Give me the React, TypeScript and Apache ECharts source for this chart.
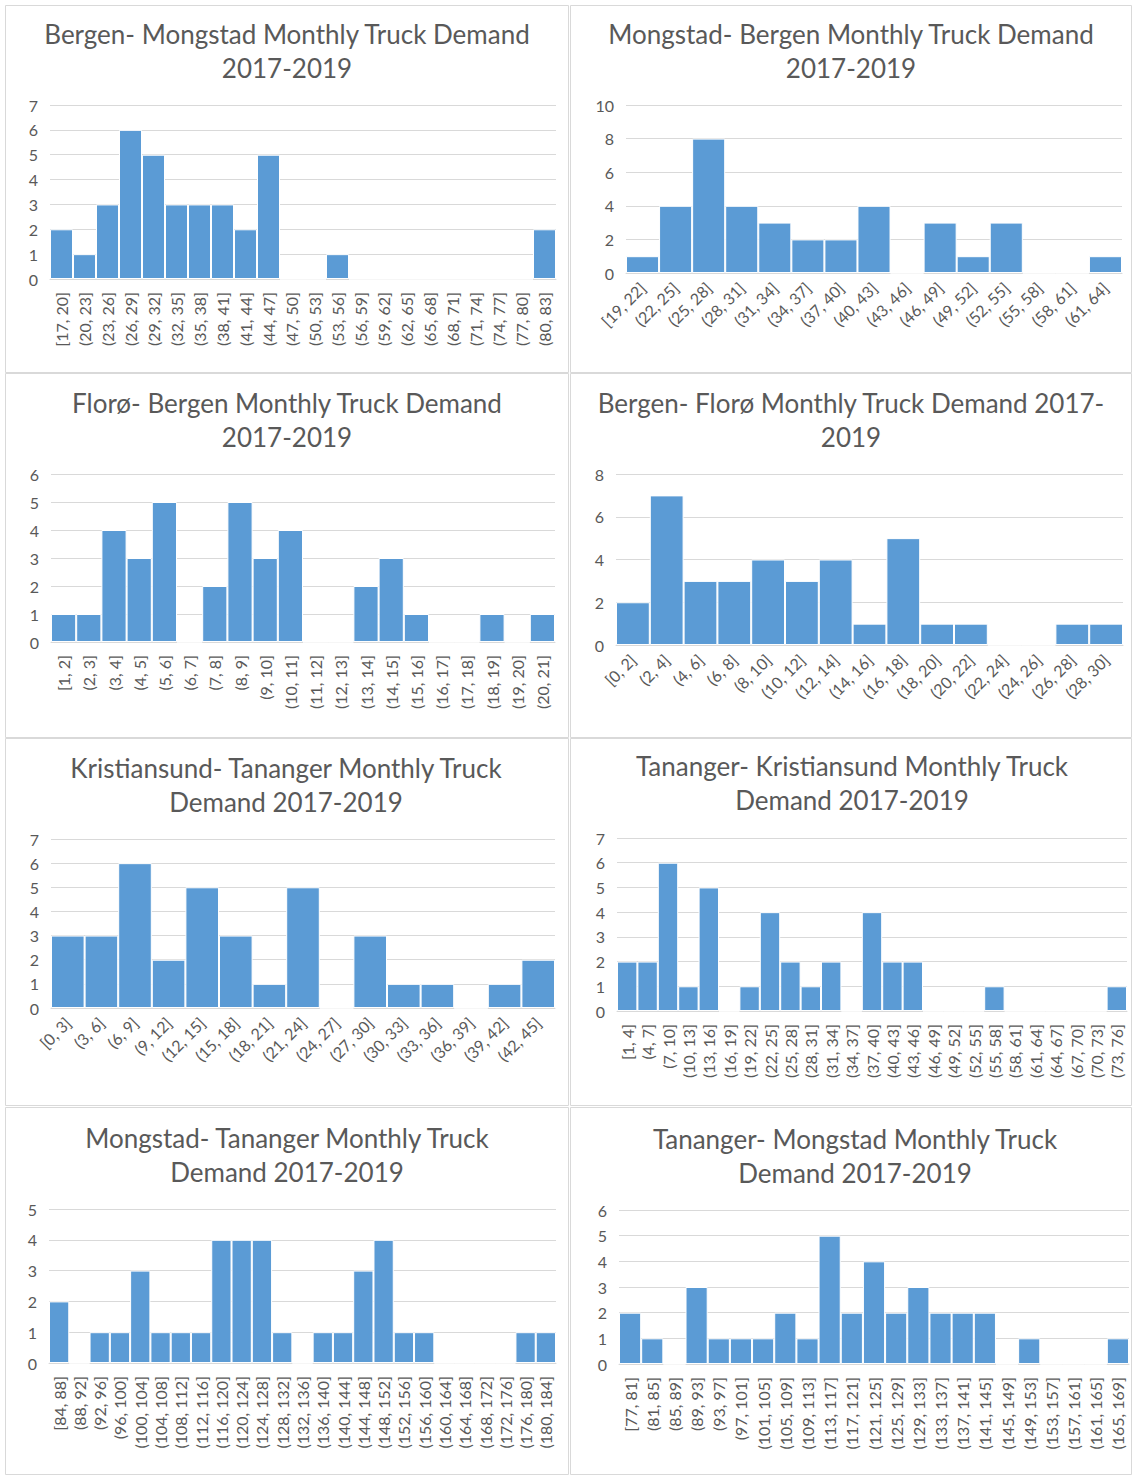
import React, { useEffect, useRef } from "react";
import * as echarts from "echarts";

const p1Title = "Bergen- Mongstad Monthly Truck Demand\n2017-2019";
const p1Cats = ["[17, 20]","(20, 23]","(23, 26]","(26, 29]","(29, 32]","(32, 35]","(35, 38]","(38, 41]","(41, 44]","(44, 47]","(47, 50]","(50, 53]","(53, 56]","(56, 59]","(59, 62]","(62, 65]","(65, 68]","(68, 71]","(71, 74]","(74, 77]","(77, 80]","(80, 83]"];
const p1Vals = [2,1,3,6,5,3,3,3,2,5,0,0,1,0,0,0,0,0,0,0,0,2];

const p2Title = "Mongstad- Bergen Monthly Truck Demand\n2017-2019";
const p2Cats = ["[19, 22]","(22, 25]","(25, 28]","(28, 31]","(31, 34]","(34, 37]","(37, 40]","(40, 43]","(43, 46]","(46, 49]","(49, 52]","(52, 55]","(55, 58]","(58, 61]","(61, 64]"];
const p2Vals = [1,4,8,4,3,2,2,4,0,3,1,3,0,0,1];

const p3Title = "Florø- Bergen Monthly Truck Demand\n2017-2019";
const p3Cats = ["[1, 2]","(2, 3]","(3, 4]","(4, 5]","(5, 6]","(6, 7]","(7, 8]","(8, 9]","(9, 10]","(10, 11]","(11, 12]","(12, 13]","(13, 14]","(14, 15]","(15, 16]","(16, 17]","(17, 18]","(18, 19]","(19, 20]","(20, 21]"];
const p3Vals = [1,1,4,3,5,0,2,5,3,4,0,0,2,3,1,0,0,1,0,1];

const p4Title = "Bergen- Florø Monthly Truck Demand 2017-\n2019";
const p4Cats = ["[0, 2]","(2, 4]","(4, 6]","(6, 8]","(8, 10]","(10, 12]","(12, 14]","(14, 16]","(16, 18]","(18, 20]","(20, 22]","(22, 24]","(24, 26]","(26, 28]","(28, 30]"];
const p4Vals = [2,7,3,3,4,3,4,1,5,1,1,0,0,1,1];

const p5Title = "Kristiansund- Tananger Monthly Truck\nDemand 2017-2019";
const p5Cats = ["[0, 3]","(3, 6]","(6, 9]","(9, 12]","(12, 15]","(15, 18]","(18, 21]","(21, 24]","(24, 27]","(27, 30]","(30, 33]","(33, 36]","(36, 39]","(39, 42]","(42, 45]"];
const p5Vals = [3,3,6,2,5,3,1,5,0,3,1,1,0,1,2];

const p6Title = "Tananger- Kristiansund Monthly Truck\nDemand 2017-2019";
const p6Cats = ["[1, 4]","(4, 7]","(7, 10]","(10, 13]","(13, 16]","(16, 19]","(19, 22]","(22, 25]","(25, 28]","(28, 31]","(31, 34]","(34, 37]","(37, 40]","(40, 43]","(43, 46]","(46, 49]","(49, 52]","(52, 55]","(55, 58]","(58, 61]","(61, 64]","(64, 67]","(67, 70]","(70, 73]","(73, 76]"];
const p6Vals = [2,2,6,1,5,0,1,4,2,1,2,0,4,2,2,0,0,0,1,0,0,0,0,0,1];

const p7Title = "Mongstad- Tananger Monthly Truck\nDemand 2017-2019";
const p7Cats = ["[84, 88]","(88, 92]","(92, 96]","(96, 100]","(100, 104]","(104, 108]","(108, 112]","(112, 116]","(116, 120]","(120, 124]","(124, 128]","(128, 132]","(132, 136]","(136, 140]","(140, 144]","(144, 148]","(148, 152]","(152, 156]","(156, 160]","(160, 164]","(164, 168]","(168, 172]","(172, 176]","(176, 180]","(180, 184]"];
const p7Vals = [2,0,1,1,3,1,1,1,4,4,4,1,0,1,1,3,4,1,1,0,0,0,0,1,1];

const p8Title = "Tananger- Mongstad Monthly Truck\nDemand 2017-2019";
const p8Cats = ["[77, 81]","(81, 85]","(85, 89]","(89, 93]","(93, 97]","(97, 101]","(101, 105]","(105, 109]","(109, 113]","(113, 117]","(117, 121]","(121, 125]","(125, 129]","(129, 133]","(133, 137]","(137, 141]","(141, 145]","(145, 149]","(149, 153]","(153, 157]","(157, 161]","(161, 165]","(165, 169]"];
const p8Vals = [2,1,0,3,1,1,1,2,1,5,2,4,2,3,2,2,2,0,1,0,0,0,1];

const yMax = [7, 10, 6, 8, 7, 7, 5, 6];
const yStep = [1, 2, 1, 2, 1, 1, 1, 1];
const rotations = [90, 45, 90, 45, 45, 90, 90, 90];

const FONT = "Lato";
const TEXT = "#595959";
const GRIDC = "#D9D9D9";
const BAR = "#5B9BD5";

const panels = [
  { title: p1Title, cats: p1Cats, vals: p1Vals },
  { title: p2Title, cats: p2Cats, vals: p2Vals },
  { title: p3Title, cats: p3Cats, vals: p3Vals },
  { title: p4Title, cats: p4Cats, vals: p4Vals },
  { title: p5Title, cats: p5Cats, vals: p5Vals },
  { title: p6Title, cats: p6Cats, vals: p6Vals },
  { title: p7Title, cats: p7Cats, vals: p7Vals },
  { title: p8Title, cats: p8Cats, vals: p8Vals },
];

// layout
const boxes = [
  { x: 5, y: 5, w: 563, h: 367 },
  { x: 570, y: 5, w: 561, h: 367 },
  { x: 5, y: 373, w: 563, h: 364 },
  { x: 570, y: 373, w: 561, h: 364 },
  { x: 5, y: 738, w: 563, h: 367 },
  { x: 570, y: 738, w: 561, h: 367 },
  { x: 5, y: 1107, w: 563, h: 367 },
  { x: 570, y: 1107, w: 561, h: 367 },
];
const grids = [
  { left: 50, top: 105, width: 506, height: 174 },
  { left: 626, top: 105, width: 496, height: 168 },
  { left: 51, top: 474, width: 504, height: 168 },
  { left: 616, top: 474, width: 507, height: 171 },
  { left: 51, top: 839, width: 504, height: 169 },
  { left: 617, top: 838, width: 510, height: 173 },
  { left: 49, top: 1209, width: 507, height: 154 },
  { left: 619, top: 1210, width: 510, height: 154 },
];
const titlePos = [
  { x: 287, y: 17 },
  { x: 851, y: 17 },
  { x: 287, y: 386 },
  { x: 851, y: 386 },
  { x: 286, y: 751 },
  { x: 852, y: 749 },
  { x: 287, y: 1121 },
  { x: 855, y: 1122 },
];

export default function App() {
  const ref = useRef<HTMLDivElement>(null);
  useEffect(() => {
    if (!ref.current) return;
    const chart = echarts.init(ref.current, undefined, { renderer: "svg" });
    const graphic: any[] = [];
    boxes.forEach((b) => {
      graphic.push({
        type: "rect",
        shape: { x: b.x + 0.5, y: b.y + 0.5, width: b.w, height: b.h },
        style: { fill: "#fff", stroke: GRIDC, lineWidth: 1 },
        z: -10,
      });
    });
    panels.forEach((p, i) => {
      graphic.push({
        type: "text",
        x: titlePos[i].x,
        y: titlePos[i].y,
        style: {
          text: p.title,
          fill: TEXT,
          fontFamily: FONT,
          fontSize: 26,
          lineHeight: 34,
          align: "center",
          verticalAlign: "top",
        },
      });
    });
    const option: any = {
      animation: false,
      backgroundColor: "#fff",
      graphic,
      grid: grids.map((g) => ({ ...g, containLabel: false })),
      xAxis: panels.map((p, i) => ({
        type: "category",
        gridIndex: i,
        data: p.cats,
        axisTick: { show: false },
        axisLine: { lineStyle: { color: GRIDC, width: 1 } },
        axisLabel: {
          interval: 0,
          rotate: rotations[i],
          color: TEXT,
          fontFamily: FONT,
          fontSize: 16,
          margin: rotations[i] === 90 ? 13 : 12,
        },
      })),
      yAxis: panels.map((p, i) => ({
        type: "value",
        gridIndex: i,
        min: 0,
        max: yMax[i],
        interval: yStep[i],
        axisLine: { show: false },
        axisTick: { show: false },
        splitLine: { lineStyle: { color: GRIDC, width: 1 } },
        axisLabel: { color: TEXT, fontFamily: FONT, fontSize: 16, margin: 12 },
      })),
      series: panels.map((p, i) => ({
        type: "bar",
        xAxisIndex: i,
        yAxisIndex: i,
        data: p.vals,
        barCategoryGap: "0%",
        itemStyle: { color: BAR, borderColor: "#fff", borderWidth: 1 },
      })),
    };
    chart.setOption(option);
    return () => chart.dispose();
  }, []);
  return (
    <div
      ref={ref}
      style={{ position: "absolute", left: 0, top: 0, width: 1132, height: 1475 }}
    />
  );
}
